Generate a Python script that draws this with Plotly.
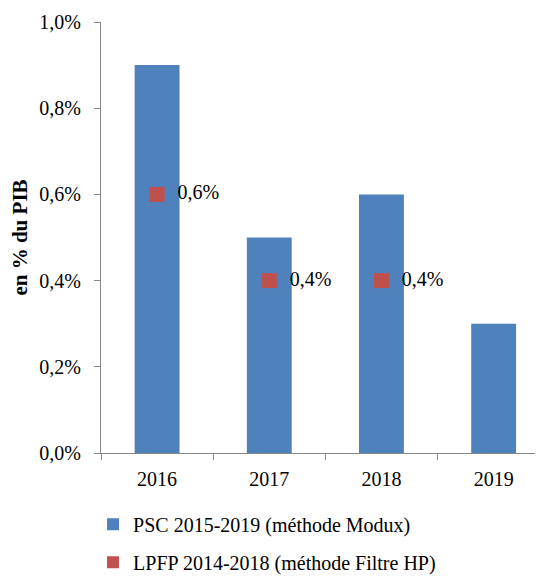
import plotly.graph_objects as go

years = ["2016", "2017", "2018", "2019"]
psc_values = [0.009, 0.005, 0.006, 0.003]
lpfp_years = ["2016", "2017", "2018"]
lpfp_values = [0.006, 0.004, 0.004]
y_ticks = [0.0, 0.002, 0.004, 0.006, 0.008, 0.010]

FONT = "Liberation Serif, Times New Roman, serif"
FS = 20

fig = go.Figure()
fig.add_trace(go.Bar(
    x=years, y=psc_values, name="PSC 2015-2019 (méthode Modux)",
    marker=dict(color="#4F81BD", line=dict(width=0)), width=0.4,
    legendgroup="a",
))
fig.add_trace(go.Scatter(
    x=lpfp_years, y=lpfp_values, name="LPFP 2014-2018 (méthode Filtre HP)",
    mode="markers+text", marker=dict(symbol="square", size=15, color="#C0504D"),
    text=["  " + f"{v*100:.1f}%".replace(".", ",") for v in lpfp_values],
    textposition="middle right", textfont=dict(family=FONT, size=FS, color="black"),
    legendgroup="b", cliponaxis=False,
))

# page body has an 8px margin: figure is shrunk/shifted to compensate
fig.update_layout(
    width=535, height=568,
    margin=dict(l=93, r=0, t=14, b=123, autoexpand=False),
    paper_bgcolor="white", plot_bgcolor="white",
    separators=", ",
    font=dict(family=FONT, size=FS, color="black"),
    showlegend=True,
    legend=dict(
        orientation="v", x=-0.018, xanchor="left", y=-0.12, yanchor="top",
        font=dict(family=FONT, size=FS, color="black"),
        tracegroupgap=9, traceorder="grouped", itemsizing="constant",
    ),
)
fig.update_xaxes(
    type="category", range=[-0.5, 3.44], automargin=False,
    showline=True, linecolor="#868686", linewidth=1,
    ticks="outside", tickson="boundaries", ticklen=6, tickcolor="#868686",
    showgrid=False, tickfont=dict(family=FONT, size=FS), ticklabelstandoff=8,
)
fig.update_yaxes(
    range=[0, 0.010], tickvals=y_ticks, tickformat=".1%", automargin=False,
    showline=True, linecolor="#868686", linewidth=1,
    ticks="outside", ticklen=6, tickcolor="#868686", ticklabelstandoff=9,
    showgrid=False, zeroline=False, tickfont=dict(family=FONT, size=FS),
    title=dict(text="<b>en % du PIB</b>", font=dict(family=FONT, size=21), standoff=6),
)

fig.write_html("out.html")
